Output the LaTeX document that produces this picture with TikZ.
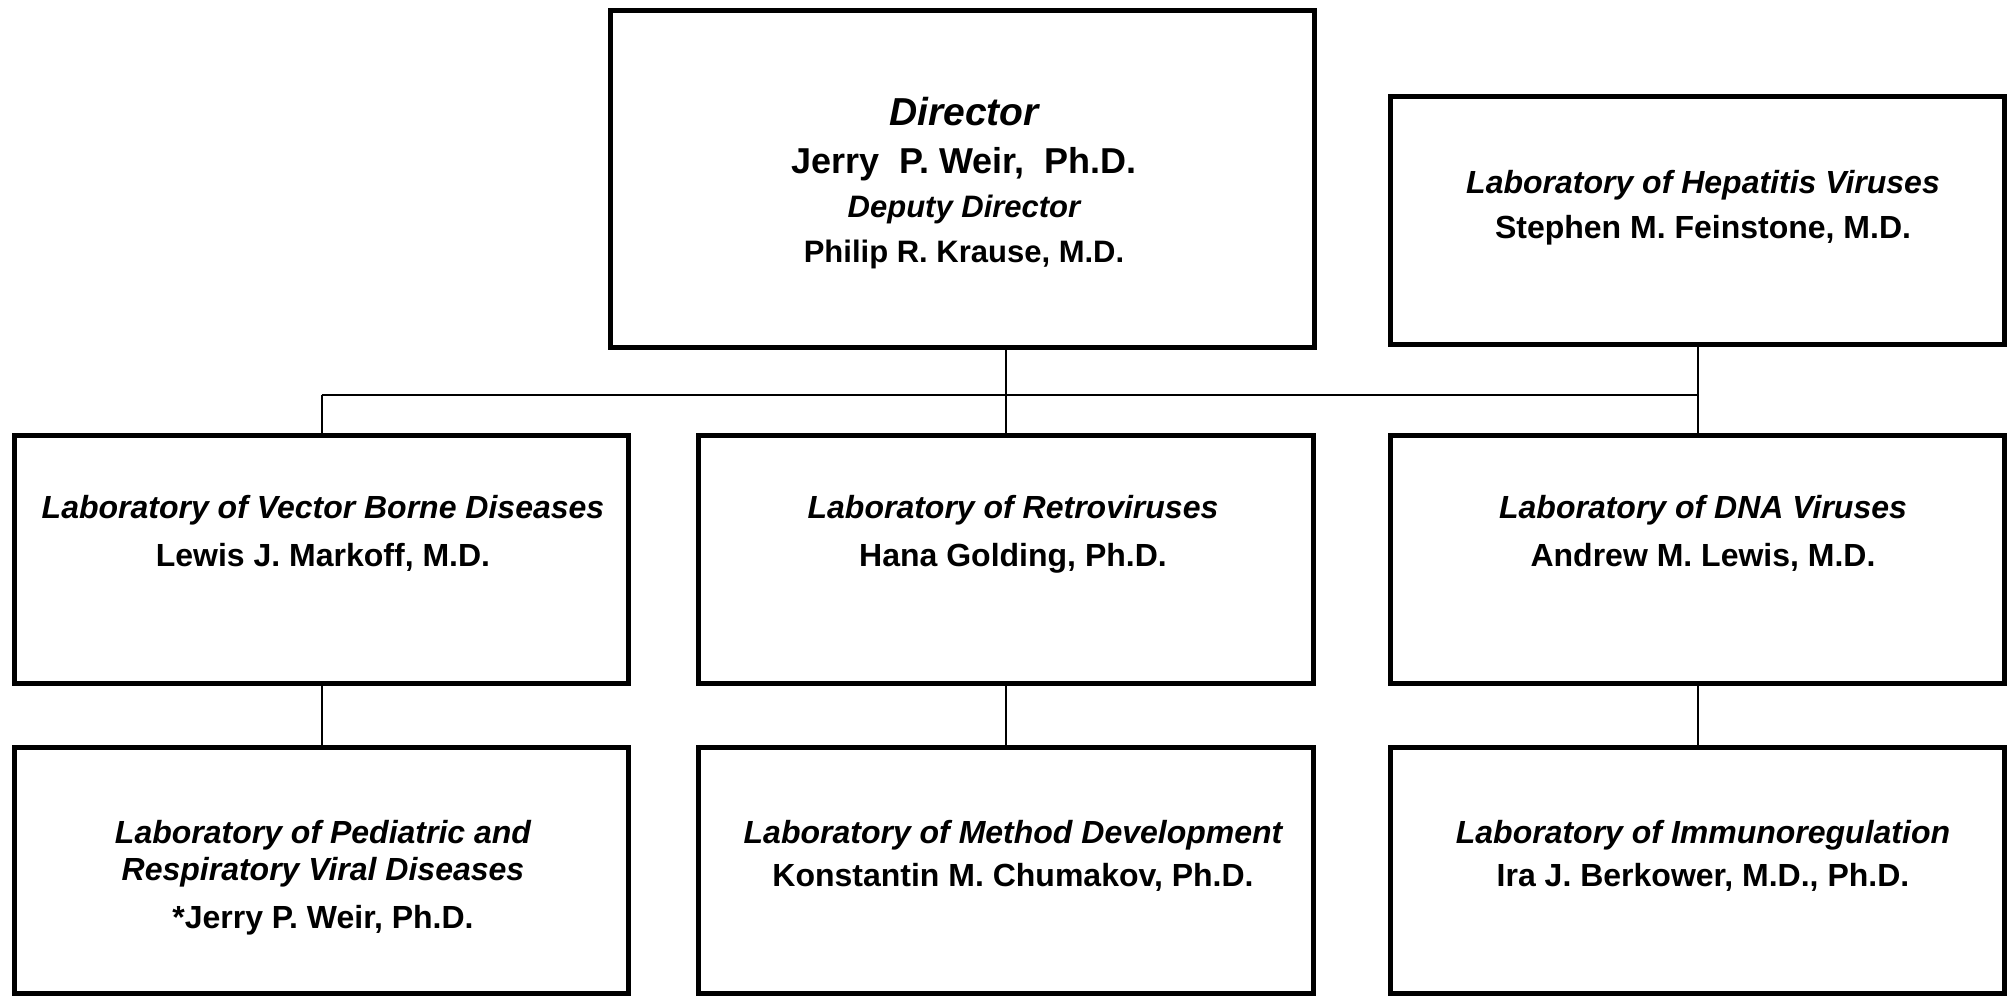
\documentclass[tikz,border=0pt]{standalone}
\usepackage{fontspec}
\setmainfont{Liberation Sans}
\begin{document}
\begin{tikzpicture}[x=1pt,y=-1pt,
  box/.style={draw=black,line width=5pt,inner sep=0pt,minimum height=248pt,minimum width=614pt},
  conn/.style={draw=black,line width=2pt},
  lab/.style={anchor=base,inner sep=0pt,font=\fontsize{32}{38}\selectfont\bfseries\itshape},
  who/.style={anchor=base,inner sep=0pt,font=\fontsize{32}{38}\selectfont\bfseries}]
\useasboundingbox (0,0) rectangle (2015,1000);
% boxes
\node[box,minimum width=704pt,minimum height=337pt] (dir) at (962.5,179) {};
\node[box] (hep) at (1697.5,220.5) {};
\node[box] (vec) at (321.5,559.5) {};
\node[box,minimum width=615pt] (ret) at (1006,559.5) {};
\node[box] (dna) at (1697.5,559.5) {};
\node[box,minimum height=246pt] (ped) at (321.5,870.5) {};
\node[box,minimum height=246pt,minimum width=615pt] (met) at (1006,870.5) {};
\node[box,minimum height=246pt] (imm) at (1697.5,870.5) {};
% texts
\node[lab,font=\fontsize{39}{46}\selectfont\bfseries\itshape] (t1) at (964,126) {Director};
\node[who,font=\fontsize{36}{42}\selectfont\bfseries] (t2) at (964,174) {Jerry\ \ P.\ Weir,\ \ Ph.D.};
\node[lab,font=\fontsize{31}{36}\selectfont\bfseries\itshape] (t3) at (964,218) {Deputy Director};
\node[who,font=\fontsize{31}{36}\selectfont\bfseries] (t4) at (964,262) {Philip R. Krause, M.D.};
\node[lab] (t5) at (1703,194) {Laboratory of Hepatitis Viruses};
\node[who] (t6) at (1703,239) {Stephen M. Feinstone, M.D.};
\node[lab] (t7) at (323,518) {Laboratory of Vector Borne Diseases};
\node[who] (t8) at (323,566) {Lewis J. Markoff, M.D.};
\node[lab] (t9) at (1013,518) {Laboratory of Retroviruses};
\node[who] (t10) at (1013,566) {Hana Golding, Ph.D.};
\node[lab] (t11) at (1703,518) {Laboratory of DNA Viruses};
\node[who] (t12) at (1703,566) {Andrew M. Lewis, M.D.};
\node[lab] (t13) at (323,843) {Laboratory of Pediatric and};
\node[lab] (t14) at (323,880) {Respiratory Viral Diseases};
\node[who] (t15) at (323,928) {*Jerry P. Weir, Ph.D.};
\node[lab] (t16) at (1013,843) {Laboratory of Method Development};
\node[who] (t17) at (1013,886) {Konstantin M. Chumakov, Ph.D.};
\node[lab] (t18) at (1703,843) {Laboratory of Immunoregulation};
\node[who] (t19) at (1703,886) {Ira J. Berkower, M.D., Ph.D.};
% connectors
\coordinate (busL) at (321.5,394.5);
\coordinate (busR) at (1697.5,394.5);
\draw[conn] (busL) -- (busR);
\draw[conn] (vec.north) -- (busL);
\draw[conn] (hep.south) -- (dna.north);
\draw[conn] (ret.north) -- (ret.north |- dir.south);
\draw[conn] (vec.south) -- (ped.north);
\draw[conn] (ret.south) -- (met.north);
\draw[conn] (dna.south) -- (imm.north);
\end{tikzpicture}
\end{document}
